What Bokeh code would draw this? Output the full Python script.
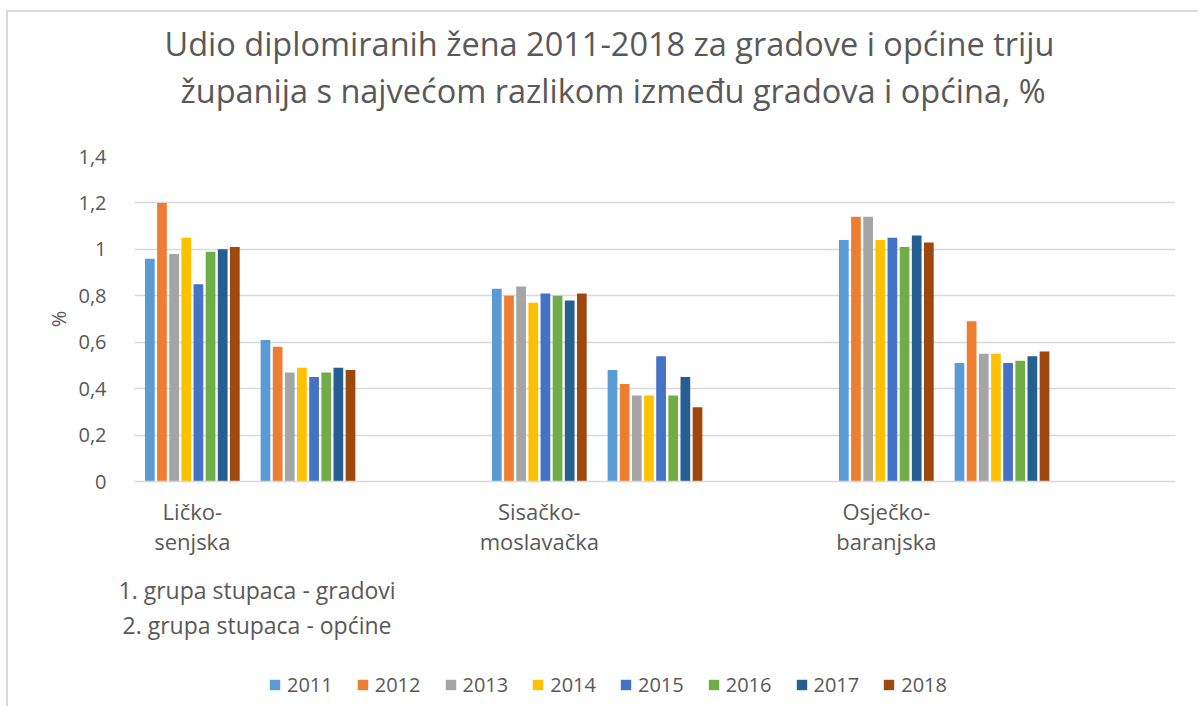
from bokeh.plotting import figure
from bokeh.layouts import column
from bokeh.models import Range1d, FixedTicker, Title, Legend, LegendItem, ColumnDataSource
from bokeh.transform import dodge
from bokeh.embed import file_html
from bokeh.resources import INLINE

# ---------------- data ----------------
counties = ["Ličko-senjska", "Sisačko-moslavačka", "Osječko-baranjska"]
county_tick_labels = ["Ličko-\nsenjska", "Sisačko-\nmoslavačka", "Osječko-\nbaranjska"]
slots = ["gradovi", "općine", "razmak"]          # three category slots per county
bar_slots = ["gradovi", "općine"]                # slots that hold bars
years = ["2011", "2012", "2013", "2014", "2015", "2016", "2017", "2018"]
colors = ["#5B9BD5", "#ED7D31", "#A5A5A5", "#FFC000", "#4472C4", "#70AD47", "#255E91", "#9E480E"]

# order: Ličko gradovi, Ličko općine, Sisačko gradovi, Sisačko općine, Osječko gradovi, Osječko općine
v2011 = [0.96, 0.61, 0.83, 0.48, 1.04, 0.51]
v2012 = [1.20, 0.58, 0.80, 0.42, 1.14, 0.69]
v2013 = [0.98, 0.47, 0.84, 0.37, 1.14, 0.55]
v2014 = [1.05, 0.49, 0.77, 0.37, 1.04, 0.55]
v2015 = [0.85, 0.45, 0.81, 0.54, 1.05, 0.51]
v2016 = [0.99, 0.47, 0.80, 0.37, 1.01, 0.52]
v2017 = [1.00, 0.49, 0.78, 0.45, 1.06, 0.54]
v2018 = [1.01, 0.48, 0.81, 0.32, 1.03, 0.56]
series = [v2011, v2012, v2013, v2014, v2015, v2016, v2017, v2018]

y_ticks = [0, 0.2, 0.4, 0.6, 0.8, 1.0, 1.2, 1.4]
y_tick_labels = ["0", "0,2", "0,4", "0,6", "0,8", "1", "1,2", "1,4"]

title_lines = ["Udio diplomiranih žena 2011-2018 za gradove i općine triju",
               "županija s najvećom razlikom između gradova i općina, %"]
notes = ["1. grupa stupaca - gradovi", "2. grupa stupaca - općine"]

# ---------------- build ----------------
n_slots = len(counties) * len(slots)
group_x = [ci * len(slots) + slots.index(s) + 0.5
           for ci in range(len(counties)) for s in bar_slots]
label_x = [ci * len(slots) + slots.index("gradovi") + 0.5 for ci in range(len(counties))]

data = {"x": group_x}
for y, vals in zip(years, series):
    data["y" + y] = vals
src = ColumnDataSource(data=data)

FONT = "Open Sans"
GRAY = "#595959"

p = figure(frame_width=1041, frame_height=325, output_backend="svg", toolbar_location=None,
           x_range=Range1d(0, n_slots), y_range=Range1d(0, 1.4),
           min_border_left=126, min_border_right=23, min_border_top=144, min_border_bottom=0)

step = 0.105
bar_w = 0.084
for i, (y, col) in enumerate(zip(years, colors)):
    p.vbar(x=dodge("x", (i - 3.5) * step), top="y" + y, width=bar_w,
           source=src, fill_color=col, line_color=None)

p.outline_line_color = None
p.background_fill_color = "white"
p.border_fill_color = "white"

# y axis
p.yaxis.ticker = FixedTicker(ticks=y_ticks)
p.yaxis.major_label_overrides = {t: l for t, l in zip(y_ticks, y_tick_labels)}
p.yaxis.axis_line_color = None
p.yaxis.major_tick_line_color = None
p.yaxis.minor_tick_line_color = None
p.yaxis.major_label_standoff = 22
p.yaxis.major_label_text_font = FONT
p.yaxis.major_label_text_font_size = "20px"
p.yaxis.major_label_text_color = GRAY
p.yaxis.axis_label = "%"
p.yaxis.axis_label_text_font = FONT
p.yaxis.axis_label_text_font_size = "20px"
p.yaxis.axis_label_text_font_style = "normal"
p.yaxis.axis_label_text_color = GRAY
p.yaxis.axis_label_standoff = 3

# x axis
p.xaxis.ticker = FixedTicker(ticks=label_x)
p.xaxis.major_label_overrides = {x: l for x, l in zip(label_x, county_tick_labels)}
p.xaxis.axis_line_color = "#d9d9d9"
p.xaxis.axis_line_width = 1.5
p.xaxis.major_tick_line_color = None
p.xaxis.minor_tick_line_color = None
p.xaxis.major_label_standoff = 8
p.xaxis.major_label_text_font = FONT
p.xaxis.major_label_text_font_size = "22px"
p.xaxis.major_label_text_line_height = 1.0
p.xaxis.major_label_text_color = GRAY

# grid
p.xgrid.grid_line_color = None
p.ygrid.ticker = FixedTicker(ticks=y_ticks)
p.ygrid.grid_line_color = "#d9d9d9"
p.ygrid.grid_line_width = 1.5


def spacer(px):
    return Title(text=" ", text_font_size="10px", standoff=px)


# title: panels stack outward from the frame (spacer, line 2, line 1)
p.add_layout(spacer(31), "above")
p.add_layout(Title(text=title_lines[1], align="left", offset=46, standoff=0,
                   text_font=FONT, text_font_size="32.5px", text_font_style="normal",
                   text_color=GRAY), "above")
p.add_layout(Title(text=title_lines[0], align="left", offset=30, standoff=0,
                   text_font=FONT, text_font_size="32.5px", text_font_style="normal",
                   text_color=GRAY), "above")

# notes below the axis
p.add_layout(spacer(0), "below")
p.add_layout(Title(text=notes[0], align="left", offset=-16, standoff=0,
                   text_font=FONT, text_font_size="23px", text_font_style="normal",
                   text_color=GRAY), "below")
p.add_layout(Title(text=notes[1], align="left", offset=-12, standoff=3,
                   text_font=FONT, text_font_size="23px", text_font_style="normal",
                   text_color=GRAY), "below")

# legend strip (second svg figure directly under the chart; its frame is aligned with the chart's)
# the same bars are drawn there, but its y range lies above all values so only the legend shows
p2 = figure(width=1190, height=64, output_backend="svg", toolbar_location=None,
            x_range=p.x_range, y_range=Range1d(2, 3), x_axis_type=None, y_axis_type=None,
            min_border=0)
p2.outline_line_color = None
p2.xgrid.grid_line_color = None
p2.ygrid.grid_line_color = None
items = []
for i, (y, col) in enumerate(zip(years, colors)):
    r = p2.vbar(x=dodge("x", (i - 3.5) * step), top="y" + y, width=bar_w,
                source=src, fill_color=col, line_color=None)
    items.append(LegendItem(label=y, renderers=[r]))
lg = Legend(items=items, orientation="horizontal", location=(134, 8),
            border_line_color=None, background_fill_alpha=0, padding=0, margin=0,
            glyph_width=13, glyph_height=13, label_standoff=6, spacing=23,
            label_text_font=FONT, label_text_font_size="20px", label_text_color=GRAY,
            label_height=20)
p2.add_layout(lg, "center")

layout = column(p, p2, spacing=0)
layout.styles = {"margin-left": "6px", "margin-top": "10px",
                 "border-top": "2px solid #d9d9d9", "border-left": "2px solid #d9d9d9"}

open("out.html", "w").write(file_html(layout, INLINE))
